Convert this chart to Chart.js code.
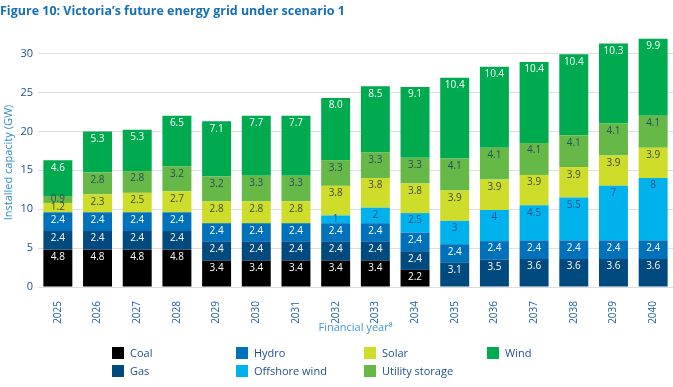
<!DOCTYPE html>
<html lang="en">
<head>
<meta charset="UTF-8">
<title>Figure 10: Victoria's future energy grid under scenario 1</title>
<script src="https://cdn.jsdelivr.net/npm/chart.js@4"></script>
<style>
body { margin: 0; background: #fff; }
.wrap { position: relative; width: 673px; height: 387px; }
canvas { position: absolute; left: 0; top: 0; }
.item { position: absolute; display: flex; align-items: center; font: 11px "Open Sans", sans-serif; color: #1d4f91; }
.sw { width: 12px; height: 12px; margin-right: 6px; }
</style>
</head>
<body>
<div class="wrap">
  <canvas id="grid" width="673" height="387"></canvas>
  <div id="legend"></div>
</div>
<script>
const years = ['2025','2026','2027','2028','2029','2030','2031','2032','2033','2034','2035','2036','2037','2038','2039','2040'];

const coal     = [4.8, 4.8, 4.8, 4.8, 3.4, 3.4, 3.4, 3.4, 3.4, 2.2, 0, 0, 0, 0, 0, 0];
const gas      = [2.4, 2.4, 2.4, 2.4, 2.4, 2.4, 2.4, 2.4, 2.4, 2.4, 3.1, 3.5, 3.6, 3.6, 3.6, 3.6];
const hydro    = [2.4, 2.4, 2.4, 2.4, 2.4, 2.4, 2.4, 2.4, 2.4, 2.4, 2.4, 2.4, 2.4, 2.4, 2.4, 2.4];
const offshore = [0, 0, 0, 0, 0, 0, 0, 1, 2, 2.5, 3, 4, 4.5, 5.5, 7, 8];
const solar    = [1.2, 2.3, 2.5, 2.7, 2.8, 2.8, 2.8, 3.8, 3.8, 3.8, 3.9, 3.9, 3.9, 3.9, 3.9, 3.9];
const storage  = [0.9, 2.8, 2.8, 3.2, 3.2, 3.3, 3.3, 3.3, 3.3, 3.3, 4.1, 4.1, 4.1, 4.1, 4.1, 4.1];
const wind     = [4.6, 5.3, 5.3, 6.5, 7.1, 7.7, 7.7, 8.0, 8.5, 9.1, 10.4, 10.4, 10.4, 10.4, 10.3, 9.9];

const yTicks = [0, 5, 10, 15, 20, 25, 30];

const FONT = '"Open Sans", sans-serif';

function series(label, data, color, labelColor, fixed = true) {
  return { label, data, backgroundColor: color, labelColor, fixed,
           barPercentage: 0.73, categoryPercentage: 1.0 };
}

const datasets = [
  series('Coal', coal, '#000000', '#ffffff'),
  series('Gas', gas, '#004a7f', '#ffffff'),
  series('Hydro', hydro, '#0072bc', '#ffffff'),
  series('Offshore wind', offshore, '#00b2ec', '#1d4f91', false),
  series('Solar', solar, '#cedc2a', '#3c4a3c'),
  series('Utility storage', storage, '#66b946', '#2b4a6a'),
  series('Wind', wind, '#00aa4f', '#ffffff')
];

// numbers inside each stacked segment, near the top of it
const valueLabels = {
  id: 'valueLabels',
  afterDatasetsDraw(chart) {
    const ctx = chart.ctx;
    ctx.save();
    ctx.font = '10px ' + FONT;
    ctx.textAlign = 'center';
    ctx.textBaseline = 'middle';
    chart.data.datasets.forEach((ds, i) => {
      chart.getDatasetMeta(i).data.forEach((bar, j) => {
        const v = ds.data[j];
        if (!v) return;
        const h = bar.base - bar.y;
        ctx.fillStyle = ds.labelColor;
        ctx.fillText(ds.fixed ? v.toFixed(1) : String(v), bar.x, bar.y + Math.min(h / 2, 7.5));
      });
    });
    ctx.restore();
  }
};

new Chart(document.getElementById('grid'), {
  type: 'bar',
  data: { labels: years, datasets },
  plugins: [valueLabels],
  options: {
    responsive: false,
    animation: false,
    layout: { padding: { left: 0, right: 0, top: 0, bottom: 54 } },
    plugins: {
      legend: { display: false },
      tooltip: { enabled: false },
      title: {
        display: true,
        text: "Figure 10: Victoria\u2019s future energy grid under scenario 1",
        align: 'start',
        color: '#1670b5',
        font: { family: FONT, size: 12.5, weight: 'bold' },
        padding: { top: 4, bottom: 19 }
      }
    },
    scales: {
      x: {
        stacked: true,
        afterFit: axis => { axis.height = 46; },
        grid: { display: false },
        border: { display: false },
        ticks: { color: '#1f5fa8', font: { family: FONT, size: 10 }, minRotation: 90, maxRotation: 90, padding: 6 },
        title: { display: true, text: 'Financial year\u2078', color: '#3d9ad6', font: { family: FONT, size: 11, lineHeight: 1 }, padding: { top: 0, bottom: 0 } }
      },
      y: {
        stacked: true,
        min: 0,
        max: 32,
        afterFit: axis => { axis.width = 38; },
        afterBuildTicks: axis => { axis.ticks = yTicks.map(v => ({ value: v })); },
        grid: { color: '#dedede', drawTicks: false },
        border: { display: false },
        ticks: { color: '#1d4f91', font: { family: FONT, size: 11 }, padding: 5 },
        title: { display: true, text: 'Installed capacity (GW)', color: '#2f8fd0', font: { family: FONT, size: 11 }, padding: { top: 2, bottom: 0 } }
      }
    }
  }
});

// legend laid out in columns like the figure
const legendPos = [
  ['Coal', 112, 345], ['Gas', 112, 363],
  ['Hydro', 236, 345], ['Offshore wind', 236, 363],
  ['Solar', 364, 345], ['Utility storage', 364, 363],
  ['Wind', 487, 345]
];
const legend = document.getElementById('legend');
legendPos.forEach(([name, x, y]) => {
  const ds = datasets.find(d => d.label === name);
  const el = document.createElement('div');
  el.className = 'item';
  el.style.left = x + 'px';
  el.style.top = y + 'px';
  el.innerHTML = `<span class="sw" style="background:${ds.backgroundColor}"></span>${name}`;
  legend.appendChild(el);
});
</script>
</body>
</html>
